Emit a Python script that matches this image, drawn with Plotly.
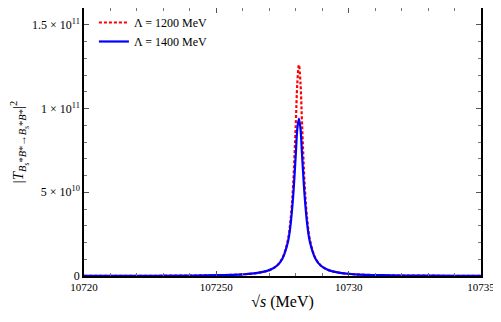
import plotly.graph_objects as go

# sqrt(s) in MeV
sqrt_s = [10720, 10722, 10724, 10725, 10726, 10726.5, 10727, 10727.3, 10727.5,
          10727.7, 10727.8, 10727.9, 10728.0, 10728.06, 10728.12, 10728.18,
          10728.24, 10728.34, 10728.44, 10728.54, 10728.74, 10728.94, 10729.24,
          10729.74, 10730.24, 10731.24, 10732.24, 10734, 10735]

# |T|^2 for Lambda = 1200 MeV
t2_1200 = [0.7e8, 1.2e8, 2.7e8, 4.7e8, 1.0e9, 1.7e9, 3.5e9, 6.4e9, 1.08e10,
           2.14e10, 3.28e10, 5.4e10, 9.0e10, 1.15e11, 1.26e11, 1.15e11,
           9.0e10, 5.4e10, 3.28e10, 2.14e10, 1.08e10, 6.4e9, 3.5e9,
           1.7e9, 1.0e9, 4.7e8, 2.7e8, 1.3e8, 1.0e8]

# |T|^2 for Lambda = 1400 MeV
t2_1400 = [0.7e8, 1.2e8, 2.7e8, 4.7e8, 1.0e9, 1.7e9, 3.5e9, 6.3e9, 1.05e10,
           2.0e10, 3.0e10, 4.7e10, 7.2e10, 8.8e10, 9.4e10, 8.8e10,
           7.2e10, 4.7e10, 3.0e10, 2.0e10, 1.05e10, 6.3e9, 3.5e9,
           1.7e9, 1.0e9, 4.7e8, 2.7e8, 1.3e8, 1.0e8]

x_tickvals = [10720, 10725, 10730, 10735]
x_ticktext = ["10720", "107250", "10730", "10735"]
y_tickvals = [0, 5e10, 1e11, 1.5e11]
y_ticktext = ["0", "5 × 10<sup>10</sup>", "1 × 10<sup>11</sup>", "1.5 × 10<sup>11</sup>"]

serif = "Liberation Serif"

fig = go.Figure()
fig.add_trace(go.Scatter(
    x=sqrt_s, y=t2_1200, mode="lines", line_shape="spline",
    line=dict(color="#ff0000", width=2.2, dash="3px,2px"),
    name="Λ = 1200 MeV"
))
fig.add_trace(go.Scatter(
    x=sqrt_s, y=t2_1400, mode="lines", line_shape="spline",
    line=dict(color="#0000ff", width=2.2),
    name="Λ = 1400 MeV"
))

# the page body has an 8px margin, so the figure is a bit smaller than the window
fig.update_layout(
    width=493, height=314,
    paper_bgcolor="white", plot_bgcolor="white",
    margin=dict(l=76, r=20, t=0, b=46, autoexpand=False),
    font=dict(family=serif, size=11, color="black"),
    showlegend=True,
    legend=dict(x=0.025, y=1.0, xanchor="left", yanchor="top",
                bgcolor="rgba(0,0,0,0)", font=dict(size=12),
                tracegroupgap=0, itemwidth=30),
    xaxis=dict(
        range=[10720, 10735], tickmode="array",
        tickvals=x_tickvals, ticktext=x_ticktext,
        ticks="inside", ticklen=5, tickcolor="#555",
        showline=True, linecolor="black", linewidth=1.5, mirror="allticks",
        showgrid=False, zeroline=False, automargin=False,
        minor=dict(dtick=1, ticks="inside", ticklen=3, tickcolor="#777"),
        title=dict(text="√<i>s</i> (MeV)", font=dict(size=16), standoff=4),
    ),
    yaxis=dict(
        range=[0, 1.6e11], tickmode="array",
        tickvals=y_tickvals, ticktext=y_ticktext,
        ticks="inside", ticklen=5, tickcolor="#555",
        showline=True, linecolor="black", linewidth=1.5, mirror="allticks",
        showgrid=False, zeroline=False, automargin=False,
        tickfont=dict(size=12),
        minor=dict(dtick=1e10, tick0=0, ticks="inside", ticklen=3, tickcolor="#777"),
        title=dict(text="|<i>T</i><sub><i>B</i><sub>s</sub>*<i>B</i>*→<i>B</i><sub>s</sub>*<i>B</i>*</sub>|<sup>2</sup>",
                   font=dict(size=15), standoff=10),
    ),
)

fig.write_html("out.html")
